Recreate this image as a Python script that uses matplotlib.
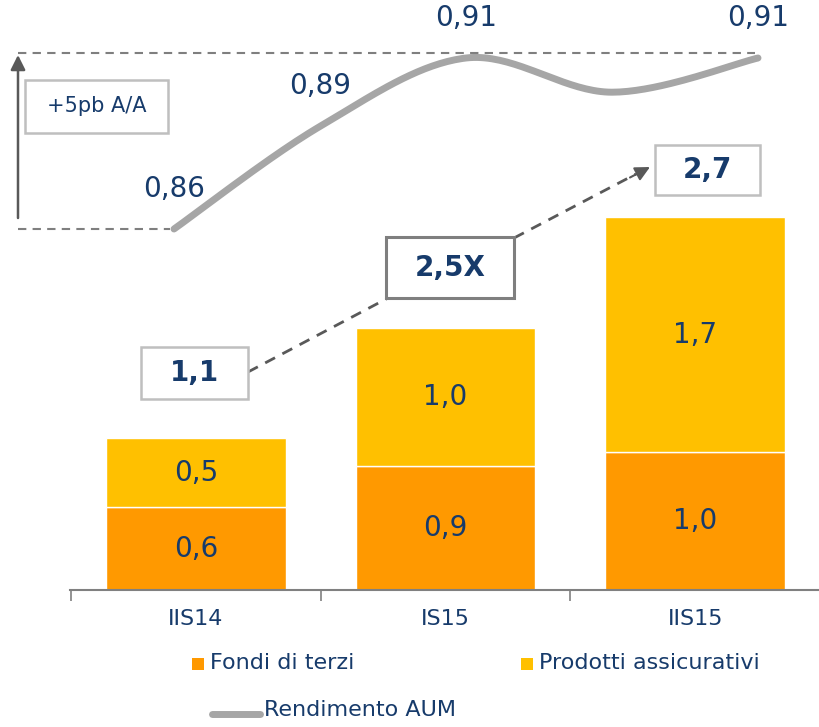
import numpy as np
import matplotlib
matplotlib.use("Agg")
import matplotlib.pyplot as plt
from matplotlib.patches import Rectangle
from matplotlib.lines import Line2D

# data
categories = ["IIS14", "IS15", "IIS15"]
fondi = [0.6, 0.9, 1.0]
prodotti = [0.5, 1.0, 1.7]
totals = ["1,1", "2,5X", "2,7"]
rendimento = [0.86, 0.89, 0.91, 0.90, 0.91]
rend_labels = ["0,86", "0,89", "0,91", "", "0,91"]

NAVY = "#173B6B"
ORANGE = "#FF9900"
YELLOW = "#FFC000"
GREY_LINE = "#A6A6A6"
DARK = "#595959"

W, H = 820, 727
fig = plt.figure(figsize=(W / 100, H / 100), dpi=100)
plt.rcParams["font.family"] = ["DejaVu Sans"]


def px(x, y):
    return x / W, 1 - y / H


def comma(v):
    return f"{v:.1f}".replace(".", ",")


# bar axes: x from 70 to 820 px, bottom at 590 px
ax = fig.add_axes([70 / W, (H - 590) / H, 750 / W, 590 / H])
ax.set_xlim(-0.505, 2.477)
ax.set_ylim(0, 590 / 138)
x = np.arange(len(categories))
ax.bar(x, fondi, width=0.72, color=ORANGE, edgecolor="white", linewidth=1.0)
ax.bar(x, prodotti, width=0.72, bottom=fondi, color=YELLOW,
       edgecolor="white", linewidth=1.0)
for i in range(len(categories)):
    ax.text(x[i], fondi[i] / 2, comma(fondi[i]), ha="center", va="center",
            fontsize=20, color=NAVY)
    ax.text(x[i], fondi[i] + prodotti[i] / 2, comma(prodotti[i]),
            ha="center", va="center", fontsize=20, color=NAVY)

for s in ["top", "right", "left"]:
    ax.spines[s].set_visible(False)
ax.spines["bottom"].set_color("#808080")
ax.spines["bottom"].set_linewidth(1.5)
ax.set_yticks([])
ax.set_xticks([-0.5, 0.5, 1.5, 2.5])
ax.set_xticklabels([])
ax.tick_params(axis="x", which="major", length=8, width=1.2, color="#808080")
ax.set_xticks(x, minor=True)
ax.set_xticklabels(categories, minor=True)
ax.tick_params(axis="x", which="minor", length=0, pad=14,
               labelsize=16, labelcolor=NAVY)

# line axes: points from x=174 to 758 px, 0.86 at y=229, 0.91 at y=58
lax = fig.add_axes([174 / W, (H - 229) / H, 584 / W, 171 / H])
lax.set_xlim(0, len(rendimento) - 1)
lax.set_ylim(0.86, 0.91)
lax.axis("off")
xr = np.arange(len(rendimento), dtype=float)
yr = np.array(rendimento)
# catmull-rom smoothing of the drawn line
P = np.column_stack([xr, yr])
P = np.vstack([P[0], P, P[-1]])
cx, cy = [], []
for k in range(1, len(P) - 2):
    p0, p1, p2, p3 = P[k - 1], P[k], P[k + 1], P[k + 2]
    t = np.linspace(0, 1, 40)[:, None]
    seg = 0.5 * ((2 * p1) + (-p0 + p2) * t + (2 * p0 - 5 * p1 + 4 * p2 - p3) * t ** 2
                 + (-p0 + 3 * p1 - 3 * p2 + p3) * t ** 3)
    cx.extend(seg[:, 0])
    cy.extend(seg[:, 1])
lax.plot(cx, cy, color=GREY_LINE, lw=5, solid_capstyle="round", clip_on=False)
for i, lab in enumerate(rend_labels):
    if lab:
        lax.annotate(lab, (xr[i], yr[i]), xytext=(0, 19), textcoords="offset points",
                     ha="center", va="bottom", fontsize=20, color=NAVY,
                     annotation_clip=False)

# dashed reference lines and vertical arrow
fig.add_artist(Line2D(*zip(px(18, 53), px(755, 53)), transform=fig.transFigure,
                      color="#7F7F7F", lw=1.5, ls=(0, (4, 3))))
fig.add_artist(Line2D(*zip(px(18, 229), px(170, 229)), transform=fig.transFigure,
                      color="#7F7F7F", lw=1.5, ls=(0, (4, 3))))
ax.annotate("", xy=px(18, 55), xytext=px(18, 218), xycoords="figure fraction",
            textcoords="figure fraction",
            arrowprops=dict(arrowstyle="-|>", color=DARK, lw=1.8,
                            mutation_scale=22, shrinkA=0, shrinkB=0))


def box(x0, y0, x1, y1, text, ec, lw, bold, size):
    fx0, fy1 = px(x0, y0)
    fx1, fy0 = px(x1, y1)
    fig.add_artist(Rectangle((fx0, fy0), fx1 - fx0, fy1 - fy0, transform=fig.transFigure,
                             facecolor="white", edgecolor=ec, lw=lw, zorder=5))
    fig.text((fx0 + fx1) / 2, (fy0 + fy1) / 2, text, ha="center", va="center",
             fontsize=size, color=NAVY, fontweight="bold" if bold else "normal",
             zorder=6)


box(25, 80, 168, 133, "+5pb A/A", "#BFBFBF", 1.8, False, 15)
box(141, 347, 248, 399, totals[0], "#BFBFBF", 1.8, True, 20)
box(386, 237, 514, 298, totals[1], "#7F7F7F", 2.2, True, 20)
box(655, 145, 760, 195, totals[2], "#BFBFBF", 1.8, True, 20)

# dashed connectors
fig.add_artist(Line2D(*zip(px(248, 372), px(388, 298)), transform=fig.transFigure,
                      color=DARK, lw=2, ls=(0, (4, 3))))
fig.add_artist(Line2D(*zip(px(514, 238), px(636, 174)), transform=fig.transFigure,
                      color=DARK, lw=2, ls=(0, (4, 3))))
ax.annotate("", xy=px(650, 167), xytext=px(630, 177.5), xycoords="figure fraction",
            textcoords="figure fraction",
            arrowprops=dict(arrowstyle="-|>", color=DARK, lw=1.5,
                            mutation_scale=22, shrinkA=0, shrinkB=0))

# legend
for sx, col, lab in [(192, ORANGE, "Fondi di terzi"), (521, YELLOW, "Prodotti assicurativi")]:
    fx, fy = px(sx, 670)
    fig.add_artist(Rectangle((fx, fy), 12 / W, 12 / H, transform=fig.transFigure,
                             facecolor=col, edgecolor="none"))
    fig.text(*px(sx + 18, 663), lab, ha="left", va="center", fontsize=16, color=NAVY)
fig.add_artist(Line2D(*zip(px(212, 714), px(260, 714)), transform=fig.transFigure,
                      color=GREY_LINE, lw=5, solid_capstyle="round"))
fig.text(*px(264, 710), "Rendimento AUM", ha="left", va="center", fontsize=16, color=NAVY)

fig.savefig("out.png", dpi=100)
